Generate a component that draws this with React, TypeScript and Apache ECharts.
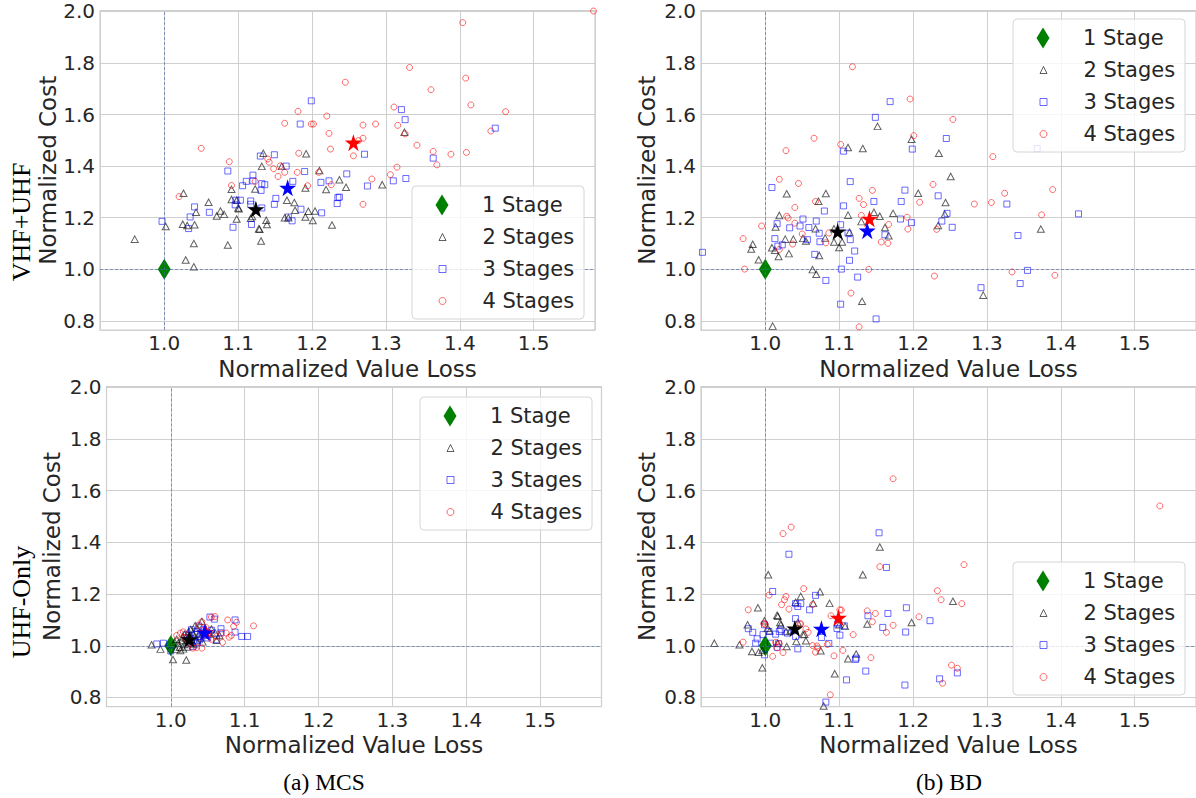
import React, { useEffect, useRef } from "react";
import * as echarts from "echarts";

// ---------- axis limits / ticks ----------
const X_MIN = 0.913;
const X_MAX = 1.583;
const Y_MIN = 0.765;
const Y_MAX = 2.003;

const seriesNames = ["1 Stage", "2 Stages", "3 Stages", "4 Stages"];
const rowLabels = ["VHF+UHF", "UHF-Only"];
const captions = ["(a) MCS", "(b) BD"];

// ---------- data: [normalized value loss, normalized cost] ----------
const singleStage = [[1.0, 1.0]];

// VHF+UHF, MCS
const tl2 = [[0.960,1.117],[1.002,1.166],[1.026,1.295],[1.025,1.175],[1.031,1.170],[1.041,1.173],[1.043,1.221],[1.040,1.100],[1.029,1.036],[1.040,1.010],[1.060,1.260],[1.076,1.226],[1.071,1.207],[1.081,1.213],[1.086,1.094],[1.091,1.310],[1.091,1.271],[1.098,1.268],[1.101,1.235],[1.098,1.195],[1.123,1.311],[1.132,1.399],[1.134,1.450],[1.117,1.198],[1.119,1.205],[1.128,1.157],[1.129,1.155],[1.131,1.110],[1.138,1.190],[1.139,1.174],[1.159,1.399],[1.166,1.268],[1.176,1.259],[1.177,1.229],[1.163,1.200],[1.168,1.200],[1.192,1.448],[1.191,1.315],[1.191,1.203],[1.195,1.225],[1.204,1.226],[1.201,1.189],[1.210,1.383],[1.219,1.309],[1.227,1.172],[1.237,1.347],[1.246,1.318],[1.295,1.328],[1.325,1.531],[1.100,1.238]];
const tl3 = [[1.199,1.653],[1.184,1.563],[1.321,1.619],[1.326,1.580],[1.448,1.547],[1.271,1.446],[1.364,1.431],[1.149,1.444],[1.130,1.439],[1.165,1.400],[1.190,1.379],[1.247,1.370],[1.086,1.381],[1.120,1.365],[1.120,1.343],[1.111,1.341],[1.106,1.324],[1.132,1.332],[1.136,1.328],[1.131,1.306],[1.174,1.341],[1.212,1.337],[1.223,1.343],[1.275,1.323],[1.310,1.343],[1.327,1.352],[1.151,1.275],[1.097,1.268],[1.103,1.268],[1.117,1.265],[1.117,1.252],[1.096,1.250],[1.149,1.252],[1.235,1.278],[1.237,1.280],[1.234,1.255],[1.041,1.242],[1.185,1.233],[1.213,1.219],[1.061,1.221],[1.035,1.203],[1.118,1.174],[1.168,1.203],[1.173,1.188],[0.997,1.186],[1.033,1.158],[1.093,1.163],[1.132,1.238]];
const tl4 = [[1.581,2.001],[1.404,1.956],[1.332,1.782],[1.245,1.725],[1.408,1.741],[1.361,1.696],[1.415,1.637],[1.462,1.611],[1.181,1.612],[1.220,1.594],[1.311,1.629],[1.163,1.566],[1.199,1.563],[1.202,1.563],[1.269,1.559],[1.286,1.563],[1.316,1.558],[1.223,1.527],[1.326,1.525],[1.269,1.508],[1.263,1.499],[1.442,1.536],[1.342,1.481],[1.225,1.466],[1.050,1.469],[1.364,1.457],[1.388,1.446],[1.409,1.453],[1.369,1.405],[1.256,1.440],[1.182,1.450],[1.088,1.417],[1.140,1.428],[1.142,1.415],[1.157,1.401],[1.148,1.390],[1.163,1.376],[1.180,1.376],[1.209,1.376],[1.154,1.360],[1.315,1.396],[1.306,1.367],[1.281,1.350],[1.091,1.325],[1.123,1.341],[1.194,1.324],[1.226,1.328],[1.020,1.282],[1.269,1.252]];
const tlMeans = [[1.256,1.491],[1.167,1.316],[1.124,1.233]];

// VHF+UHF, BD
const tr2 = [[1.152,1.554],[1.198,1.504],[1.112,1.472],[1.132,1.468],[1.235,1.450],[1.029,1.293],[1.082,1.294],[1.072,1.264],[1.207,1.295],[1.173,1.217],[1.112,1.210],[1.155,1.206],[1.244,1.259],[1.243,1.214],[1.162,1.162],[1.167,1.130],[1.234,1.170],[1.019,1.209],[1.014,1.164],[1.068,1.157],[0.983,1.097],[0.981,1.079],[0.991,1.037],[1.009,1.084],[1.013,1.074],[1.018,1.050],[1.027,1.117],[1.038,1.117],[1.032,1.061],[1.051,1.120],[1.055,1.110],[1.073,1.054],[1.081,1.121],[1.093,1.157],[1.093,1.106],[1.104,1.106],[1.100,1.085],[1.114,1.144],[1.130,1.185],[1.147,1.221],[1.064,0.999],[1.069,0.981],[1.131,0.876],[1.010,0.780],[1.251,1.360],[1.373,1.156],[1.295,0.900]];
const tr3 = [[1.169,1.650],[1.149,1.589],[1.106,1.458],[1.199,1.466],[1.245,1.507],[1.115,1.340],[1.009,1.317],[1.189,1.307],[1.147,1.263],[1.184,1.263],[1.106,1.246],[1.080,1.226],[1.234,1.285],[1.246,1.217],[1.239,1.187],[1.183,1.195],[1.198,1.181],[1.051,1.195],[1.069,1.187],[1.033,1.161],[1.016,1.177],[1.047,1.168],[1.059,1.162],[1.102,1.173],[1.013,1.119],[1.023,1.095],[1.057,1.115],[1.074,1.107],[1.115,1.115],[1.067,1.058],[1.121,1.071],[1.114,1.035],[1.103,1.001],[1.082,0.957],[1.125,0.970],[1.102,0.865],[1.150,0.808],[0.915,1.066],[1.162,1.134],[1.253,1.163],[1.368,1.468],[1.424,1.215],[1.327,1.253],[1.342,1.131],[1.355,0.996],[1.345,0.945],[1.292,0.929],[1.017,1.090],[1.073,1.140],[1.112,1.140]];
const tr4 = [[1.118,1.785],[1.196,1.660],[1.066,1.508],[1.102,1.484],[1.028,1.460],[1.201,1.518],[1.019,1.349],[1.045,1.333],[1.145,1.306],[1.227,1.329],[1.209,1.260],[1.127,1.275],[1.133,1.251],[1.068,1.263],[1.040,1.240],[1.029,1.206],[1.031,1.199],[0.995,1.168],[0.970,1.119],[1.040,1.179],[1.050,1.137],[1.037,1.098],[1.019,1.077],[1.086,1.141],[1.082,1.103],[1.130,1.209],[1.167,1.174],[1.193,1.156],[1.192,1.202],[1.157,1.106],[1.166,1.101],[1.232,1.155],[1.140,1.000],[1.116,0.908],[1.127,0.777],[0.972,1.001],[1.229,0.974],[1.254,1.581],[1.308,1.437],[1.283,1.253],[1.306,1.259],[1.324,1.295],[1.389,1.309],[1.374,1.211],[1.334,0.990],[1.392,0.977],[1.510,1.652]];
const trMeans = [[1.141,1.196],[1.138,1.150],[1.098,1.147]];

// UHF-Only, MCS
const bl2 = [[0.974,1.004],[0.986,0.987],[1.003,0.947],[1.021,0.945],[1.007,0.987],[1.013,0.982],[1.017,0.988],[1.062,1.021],[1.066,1.040],[1.042,1.094],[1.033,1.078],[1.018,1.005],[1.012,0.994],[1.010,1.010],[1.015,1.020],[1.020,1.030],[1.022,1.015],[1.025,1.040],[1.028,1.025],[1.030,1.050],[1.032,1.035],[1.035,1.020],[1.024,1.055],[1.019,1.045],[1.038,1.045],[1.040,1.030],[1.045,1.055],[1.028,1.010],[1.016,1.035],[1.027,1.063],[1.036,1.068],[1.048,1.060],[1.052,1.045],[1.005,1.015],[1.022,0.995],[1.031,1.005],[1.008,1.025],[1.043,1.015],[1.055,1.065],[1.060,1.050]];
const bl3 = [[1.053,1.111],[1.059,1.103],[1.087,1.100],[1.087,1.053],[1.096,1.036],[1.104,1.036],[1.051,1.049],[1.028,1.062],[0.990,1.010],[0.981,1.007],[1.039,1.023],[1.021,1.042],[1.030,0.997],[1.044,1.062],[1.062,1.023],[1.000,0.980],[1.068,1.066],[1.068,1.050],[1.038,1.076],[1.036,1.012],[1.047,1.040],[1.043,1.050],[1.050,1.030],[1.033,1.045],[1.025,1.030],[1.055,1.060],[1.040,1.035]];
const bl4 = [[1.112,1.077],[1.077,1.100],[1.089,1.091],[1.085,1.075],[1.075,1.049],[1.082,1.040],[1.070,1.013],[1.062,1.036],[1.060,1.113],[1.055,1.111],[1.042,1.093],[1.013,1.049],[1.017,1.054],[1.042,0.991],[1.030,0.991],[1.068,1.049],[1.079,1.033],[1.035,0.993],[1.045,1.060],[1.050,1.045],[1.025,1.010],[1.020,1.030],[1.038,1.080],[1.055,1.025],[1.008,1.040],[1.048,1.070]];
const blMeans = [[1.047,1.052],[1.046,1.051],[1.025,1.025]];

// UHF-Only, BD
const br2 = [[1.155,1.382],[1.132,1.275],[1.004,1.275],[1.048,1.191],[1.074,1.209],[1.087,1.164],[0.990,1.147],[1.065,1.164],[1.041,1.168],[1.017,1.114],[1.020,1.090],[1.021,1.081],[0.999,1.097],[0.976,1.081],[1.003,1.068],[1.006,1.058],[1.028,1.055],[1.034,1.058],[1.044,1.090],[1.051,1.043],[1.055,1.019],[1.042,1.017],[1.075,0.981],[1.029,0.997],[0.965,1.004],[0.931,1.010],[0.982,0.978],[0.991,0.975],[0.996,0.982],[0.996,0.915],[1.094,0.892],[1.112,0.950],[1.123,0.968],[1.138,1.084],[1.198,1.090],[1.079,0.767],[1.100,1.081],[1.108,1.075],[1.017,1.010],[1.254,1.172],[1.016,1.118],[1.053,1.044]];
const br3 = [[1.154,1.437],[1.164,1.303],[1.032,1.354],[1.010,1.210],[1.068,1.195],[1.041,1.163],[1.048,1.163],[1.044,1.152],[1.060,1.139],[1.041,1.105],[1.139,1.116],[1.166,1.125],[1.191,1.147],[1.159,1.071],[1.190,1.053],[1.223,1.097],[1.098,1.084],[1.107,1.077],[1.101,1.041],[1.076,1.032],[1.086,1.009],[1.044,0.988],[1.123,0.952],[1.122,0.947],[1.110,0.868],[1.136,0.902],[1.189,0.848],[1.236,0.872],[1.260,0.895],[1.082,0.782],[0.977,1.066],[0.983,1.052],[0.989,1.027],[0.987,1.010],[0.999,1.081],[0.997,1.043],[0.999,0.965],[1.005,1.055],[1.014,1.045],[1.019,1.055],[1.021,1.062],[1.007,1.010],[1.018,1.008],[1.016,0.994],[1.030,1.049],[1.041,1.036],[1.097,1.067]];
const br4 = [[1.534,1.541],[1.173,1.646],[1.024,1.434],[1.035,1.459],[1.155,1.306],[1.052,1.221],[1.005,1.196],[1.028,1.191],[1.026,1.178],[1.022,1.159],[1.032,1.142],[0.977,1.139],[1.089,1.116],[1.103,1.138],[1.138,1.135],[1.149,1.125],[1.145,1.093],[1.173,1.079],[1.164,1.052],[1.208,1.112],[1.233,1.213],[1.238,1.178],[1.240,0.855],[1.269,1.314],[1.266,1.163],[1.252,0.925],[1.260,0.913],[1.048,1.084],[1.055,1.065],[1.058,1.052],[1.064,1.001],[1.071,0.991],[1.068,0.975],[1.119,1.043],[1.105,0.982],[1.093,0.961],[1.143,0.954],[1.088,0.810],[1.024,0.974],[1.010,0.959],[0.970,1.014],[1.014,1.013],[1.019,1.008],[1.101,1.139],[1.084,1.005],[1.070,0.999],[1.064,1.159],[0.998,1.087],[1.000,1.082],[1.016,0.992],[1.047,1.085]];
const brMeans = [[1.099,1.108],[1.076,1.066],[1.040,1.067]];

// ---------- styles ----------
const FONT = "DejaVu Sans";
const SERIF = "Liberation Serif";
const TEXT = "#262626";
const GRIDC = "#cfcfcf";
const C_GREEN = "#008000";
const C_TRI = "rgba(0,0,0,0.62)";
const C_SQ = "rgba(0,0,255,0.58)";
const C_CIR = "rgba(255,0,0,0.58)";
const MEAN_COLORS = ["#ff0000", "#0000ff", "#000000"];
const STAR = "path://M50,0 L61.2,34.5 L97.6,34.5 L68.2,55.9 L79.4,90.5 L50,69.1 L20.6,90.5 L31.8,55.9 L2.4,34.5 L38.8,34.5 Z";

const panels = [
  { grid: { left: 100, top: 10.5, width: 495, height: 319.5 }, nameGap: 40, s2: tl2, s3: tl3, s4: tl4, means: tlMeans, box: [412, 186] },
  { grid: { left: 701, top: 10.5, width: 496, height: 319.5 }, nameGap: 43, s2: tr2, s3: tr3, s4: tr4, means: trMeans, box: [1013, 19] },
  { grid: { left: 106.5, top: 386.5, width: 495, height: 320 }, nameGap: 43, s2: bl2, s3: bl3, s4: bl4, means: blMeans, box: [420, 397] },
  { grid: { left: 701, top: 386.5, width: 496, height: 320 }, nameGap: 43, s2: br2, s3: br3, s4: br4, means: brMeans, box: [1013, 562] },
];

function buildOption() {
  const grid: any[] = [];
  const xAxis: any[] = [];
  const yAxis: any[] = [];
  const series: any[] = [];
  const legend: any[] = [];
  const graphic: any[] = [];
  const fmt = (v: number) => v.toFixed(1);

  panels.forEach((p, i) => {
    grid.push({ ...p.grid, show: true, borderColor: GRIDC, borderWidth: 1.25, backgroundColor: "rgba(0,0,0,0)", containLabel: false });
    xAxis.push({
      type: "value", gridIndex: i, min: X_MIN, max: X_MAX, splitNumber: 6,
      axisLine: { show: false }, axisTick: { show: false },
      splitLine: { show: true, lineStyle: { color: GRIDC, width: 1 } },
      axisLabel: { fontSize: 20, lineHeight: 20, color: TEXT, fontFamily: FONT, margin: 3, showMinLabel: false, showMaxLabel: false, formatter: fmt },
      name: "Normalized Value Loss", nameLocation: "middle", nameGap: 27,
      nameTextStyle: { fontSize: 23, lineHeight: 23, color: TEXT, fontFamily: FONT },
    });
    yAxis.push({
      type: "value", gridIndex: i, min: Y_MIN, max: Y_MAX, splitNumber: 6,
      axisLine: { show: false }, axisTick: { show: false },
      splitLine: { show: true, lineStyle: { color: GRIDC, width: 1 } },
      axisLabel: { fontSize: 20, lineHeight: 20, color: TEXT, fontFamily: FONT, margin: 5, showMinLabel: false, showMaxLabel: false, formatter: fmt },
      name: "Normalized Cost", nameLocation: "middle", nameRotate: 90, nameGap: p.nameGap,
      nameTextStyle: { fontSize: 23, lineHeight: 23, color: TEXT, fontFamily: FONT },
    });
    const common = { type: "scatter", xAxisIndex: i, yAxisIndex: i, silent: true, emphasis: { disabled: true } };
    series.push({
      ...common, name: seriesNames[0], data: singleStage, symbol: "diamond", symbolSize: [13, 21],
      itemStyle: { color: C_GREEN, opacity: 1 },
      markLine: {
        silent: true, symbol: ["none", "none"], label: { show: false }, animation: false,
        lineStyle: { type: [3, 2], color: "rgba(76,104,170,0.9)", width: 0.7, opacity: 1 },
        data: [{ xAxis: 1 }, { yAxis: 1 }],
      },
    });
    series.push({ ...common, name: seriesNames[1], data: p.s2, symbol: "triangle", symbolSize: [7, 6.5], itemStyle: { color: "rgba(0,0,0,0)", borderColor: C_TRI, borderWidth: 1, opacity: 1 } });
    series.push({ ...common, name: seriesNames[2], data: p.s3, symbol: "rect", symbolSize: 6, itemStyle: { color: "rgba(0,0,0,0)", borderColor: C_SQ, borderWidth: 1, opacity: 1 } });
    series.push({ ...common, name: seriesNames[3], data: p.s4, symbol: "circle", symbolSize: 6, itemStyle: { color: "rgba(0,0,0,0)", borderColor: C_CIR, borderWidth: 1, opacity: 1 } });
    series.push({
      ...common, name: "Mean", symbol: STAR, symbolSize: 17, z: 5,
      data: p.means.map((m, k) => ({ value: m, itemStyle: { color: MEAN_COLORS[k], opacity: 1 } })),
    });

    const [L, T] = p.box;
    graphic.push({
      type: "rect", z: 10, shape: { x: L, y: T, width: 172, height: 133, r: 4 },
      style: { fill: "rgba(255,255,255,0.8)", stroke: "#d6d6d6", lineWidth: 1 },
    });
    const lt = { fontSize: 21, fontFamily: FONT, color: TEXT, lineHeight: 21 };
    legend.push({
      show: true, orient: "vertical", left: L + 23.5, top: T + 8.5, padding: 0, z: 11,
      itemWidth: 13, itemHeight: 21, itemGap: 11, selectedMode: false,
      textStyle: { ...lt, padding: [0, 0, 0, 28.5] },
      data: [{ name: seriesNames[0], icon: "diamond", itemStyle: { color: C_GREEN, borderWidth: 0, opacity: 1 } }],
    });
    legend.push({
      show: true, orient: "vertical", left: L + 26.5, top: T + 40.5, padding: 0, z: 11,
      itemWidth: 7, itemHeight: 7, itemGap: 11, selectedMode: false,
      textStyle: { ...lt, padding: [0, 0, 0, 31.5] },
      data: [
        { name: seriesNames[1], icon: "triangle", itemStyle: { color: "rgba(0,0,0,0)", borderColor: C_TRI, borderWidth: 1, opacity: 1 } },
        { name: seriesNames[2], icon: "rect", itemStyle: { color: "rgba(0,0,0,0)", borderColor: C_SQ, borderWidth: 1, opacity: 1 } },
        { name: seriesNames[3], icon: "circle", itemStyle: { color: "rgba(0,0,0,0)", borderColor: C_CIR, borderWidth: 1, opacity: 1 } },
      ],
    });
  });

  graphic.push({ type: "text", x: 21, y: 222, rotation: Math.PI / 2, style: { text: rowLabels[0], fontSize: 26, fontFamily: SERIF, fill: "#000", align: "center", verticalAlign: "middle" } });
  graphic.push({ type: "text", x: 21, y: 602, rotation: Math.PI / 2, style: { text: rowLabels[1], fontSize: 26, fontFamily: SERIF, fill: "#000", align: "center", verticalAlign: "middle" } });
  graphic.push({ type: "text", x: 324, y: 782, style: { text: captions[0], fontSize: 23.5, fontFamily: SERIF, fill: "#000", align: "center", verticalAlign: "middle" } });
  graphic.push({ type: "text", x: 949, y: 782, style: { text: captions[1], fontSize: 23.5, fontFamily: SERIF, fill: "#000", align: "center", verticalAlign: "middle" } });

  return {
    animation: false,
    backgroundColor: "#ffffff",
    textStyle: { fontFamily: FONT },
    grid, xAxis, yAxis, series, legend, graphic,
  };
}

export default function App() {
  const ref = useRef<HTMLDivElement>(null);
  useEffect(() => {
    if (!ref.current) return;
    const chart = echarts.init(ref.current, null, { renderer: "svg" });
    chart.setOption(buildOption() as any);
    return () => chart.dispose();
  }, []);
  return <div ref={ref} style={{ position: "absolute", left: 0, top: 0, width: 1196, height: 798 }} />;
}
